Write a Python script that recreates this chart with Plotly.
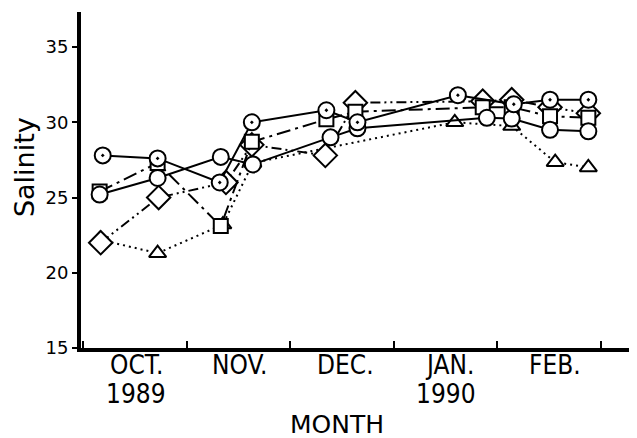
import plotly.graph_objects as go

# x values: month index (0 = 1 Oct 1989, 1 = 1 Nov, ... 4 = 1 Feb 1990)
dot_circle_x = [0.19, 0.72, 1.32, 1.63, 2.35, 2.65, 3.62, 4.16, 4.51, 4.88]
dot_circle_y = [27.8, 27.6, 26.0, 30.0, 30.8, 30.0, 31.8, 31.2, 31.5, 31.5]

circle_x = [0.16, 0.72, 1.33, 1.64, 2.39, 2.65, 3.90, 4.14, 4.51, 4.88]
circle_y = [25.2, 26.3, 27.7, 27.2, 29.0, 29.6, 30.3, 30.25, 29.5, 29.4]

square_x = [0.16, 0.72, 1.33, 1.63, 2.35, 2.63, 3.86, 4.14, 4.51, 4.88]
square_y = [25.4, 27.3, 23.1, 28.7, 30.2, 30.7, 31.0, 31.0, 30.4, 30.3]

diamond_x = [0.17, 0.73, 1.38, 1.63, 2.34, 2.63, 3.86, 4.14, 4.51, 4.88]
diamond_y = [22.0, 25.0, 26.0, 28.5, 27.8, 31.3, 31.4, 31.5, 31.0, 30.6]

triangle_x = [0.16, 0.72, 1.35, 1.64, 3.59, 4.14, 4.56, 4.88]
triangle_y = [22.2, 21.3, 23.2, 27.3, 30.0, 29.75, 27.35, 27.0]

month_pos = [0.52, 1.52, 2.53, 3.54, 4.56]
month_labels = ["OCT.", "NOV.", "DEC.", "JAN.", "FEB."]
year_pos = [0.51, 3.51]
year_labels = ["1989", "1990"]
y_ticks = [15, 20, 25, 30, 35]

fig = go.Figure()

def add(x, y, symbol, size, dash):
    fig.add_trace(go.Scatter(
        x=x, y=y, mode="lines+markers",
        line=dict(color="black", width=2, dash=dash),
        marker=dict(symbol=symbol, size=size, color="white",
                    line=dict(color="black", width=2)),
        showlegend=False, cliponaxis=False))

add(triangle_x, triangle_y, "triangle-up", 15, "2px,4px")
add(diamond_x, diamond_y, "diamond", 18, "10px,4px,2px,4px,2px,4px")
add(square_x, square_y, "square", 14, "14px,5px,3px,5px")
add(circle_x, circle_y, "circle", 16, "solid")
add(dot_circle_x, dot_circle_y, "circle-dot", 16, "solid")

narrow = "Liberation Sans Narrow, DejaVu Sans Condensed, Arial Narrow, sans-serif"

fig.update_xaxes(
    range=[-0.02, 5.35], showgrid=False, zeroline=False,
    showline=True, linecolor="black", linewidth=4,
    tickmode="array", tickvals=[], ticks="",
    minor=dict(tickmode="linear", tick0=0, dtick=1, ticks="inside",
               ticklen=7, tickwidth=2, tickcolor="black", showgrid=False),
)
fig.update_yaxes(
    range=[15, 37.33], showgrid=False, zeroline=False,
    showline=True, linecolor="black", linewidth=4,
    tickmode="array", tickvals=y_ticks, ticks="outside",
    ticklen=5, tickwidth=2, tickcolor="black",
    tickfont=dict(family="DejaVu Sans", size=18, color="black"),
)

for xv, t in zip(month_pos, month_labels):
    fig.add_annotation(x=xv, xref="x", y=-0.050, yref="paper", text=t,
                       showarrow=False, font=dict(family=narrow, size=26, color="black"),
                       xanchor="center", yanchor="middle")
for xv, t in zip(year_pos, year_labels):
    fig.add_annotation(x=xv, xref="x", y=-0.137, yref="paper", text=t,
                       showarrow=False, font=dict(family=narrow, size=26, color="black"),
                       xanchor="center", yanchor="middle")

fig.add_annotation(x=0.4606, xref="paper", y=-0.228, yref="paper", text="MONTH",
                   showarrow=False, font=dict(family="DejaVu Sans", size=25, color="black"),
                   xanchor="center", yanchor="middle")
fig.add_annotation(x=-0.1004, xref="paper", y=0.539, yref="paper", text="Salinity",
                   textangle=-90, showarrow=False,
                   font=dict(family="DejaVu Sans", size=27, color="black"),
                   xanchor="center", yanchor="middle")

fig.update_layout(
    width=629, height=430,
    margin=dict(l=73, r=0, t=4, b=90),
    plot_bgcolor="white", paper_bgcolor="white",
)

fig.write_html("out.html")
